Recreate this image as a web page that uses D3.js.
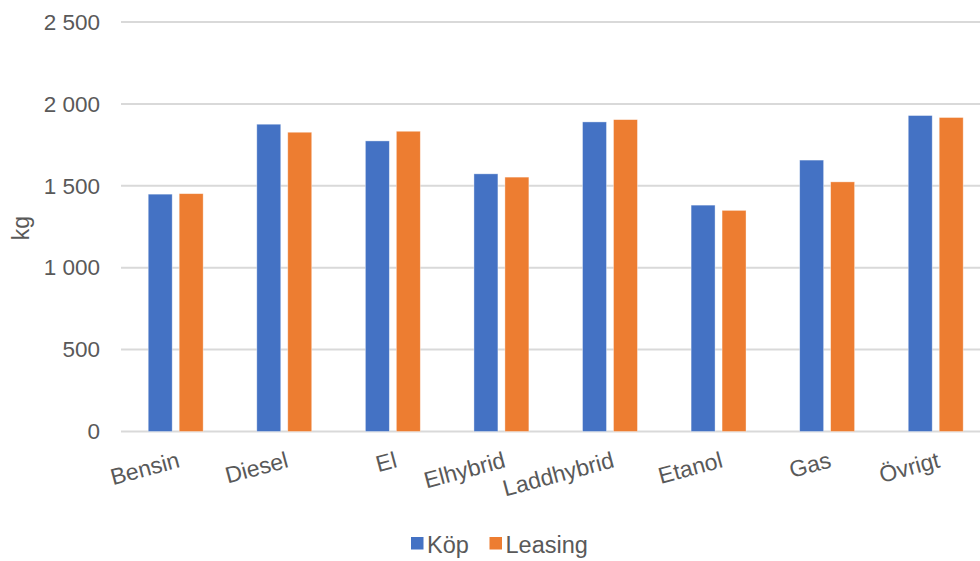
<!DOCTYPE html>
<html>
<head>
<meta charset="utf-8">
<script src="https://cdn.jsdelivr.net/npm/d3@7"></script>
<style>
  html, body { margin: 0; padding: 0; background: #ffffff; }
  svg { display: block; font-family: "Liberation Sans", Arial, sans-serif; }
</style>
</head>
<body>
<svg id="chart" width="980" height="561"></svg>
<script>
// Average vehicle weight (kg) by fuel type, purchased vs leased
const categories = ["Bensin", "Diesel", "El", "Elhybrid", "Laddhybrid", "Etanol", "Gas", "Övrigt"];
const seriesNames = ["Köp", "Leasing"];
const kopValues = [1449, 1876, 1774, 1573, 1890, 1382, 1657, 1929];
const leasingValues = [1452, 1827, 1833, 1553, 1904, 1350, 1524, 1917];
const yTicks = [0, 500, 1000, 1500, 2000, 2500];
const colors = ["#4472C4", "#ED7D31"];

const rows = categories.map((c, i) => ({ category: c, values: [kopValues[i], leasingValues[i]] }));

const svg = d3.select("#chart");
const textColor = "#595959";

const x0 = d3.scaleBand().domain(categories).range([121.4, 990]).paddingInner(0.494).paddingOuter(0.247);
const x1 = d3.scaleBand().domain(seriesNames).range([0, x0.bandwidth()]).paddingInner(0.226).paddingOuter(0);
const y = d3.scaleLinear().domain([0, 2500]).range([431.5, 22]);

const sv = d3.formatLocale({ decimal: ",", thousands: " ", grouping: [3], currency: ["", " kr"] });
const fmt = sv.format(",.0f");

// Horizontal gridlines
svg.append("g").selectAll("line").data(yTicks).join("line")
  .attr("x1", 121).attr("x2", 980)
  .attr("y1", d => y(d)).attr("y2", d => y(d))
  .attr("stroke", "#d9d9d9").attr("stroke-width", 2);

// Y axis tick labels
const yAxis = d3.axisLeft(y).tickValues(yTicks).tickFormat(fmt).tickSize(0).tickPadding(0);
const yg = svg.append("g").attr("transform", "translate(100,0)").call(yAxis);
yg.select(".domain").remove();
yg.selectAll("text").attr("fill", textColor).style("font-size", "22.5px")
  .style("font-family", "'Liberation Sans', Arial, sans-serif");

// Y axis title
svg.append("text")
  .attr("transform", "translate(29,228) rotate(-90)")
  .attr("text-anchor", "middle")
  .attr("fill", textColor).style("font-size", "23px")
  .text("kg");

// Bars
const groups = svg.append("g").selectAll("g").data(rows).join("g")
  .attr("transform", d => `translate(${x0(d.category)},0)`);
groups.selectAll("rect").data(d => d.values.map((v, i) => ({ key: seriesNames[i], value: v, i }))).join("rect")
  .attr("x", d => x1(d.key))
  .attr("width", x1.bandwidth())
  .attr("y", d => y(d.value))
  .attr("height", d => y(0) - y(d.value))
  .attr("fill", d => colors[d.i])
  .attr("stroke", "#ffffff").attr("stroke-opacity", 0.5).attr("stroke-width", 0.75);

// Category labels, rotated
const xAxis = d3.axisBottom(x0).tickSize(0).tickPadding(0);
const xg = svg.append("g").attr("transform", "translate(1,451)").call(xAxis);
xg.select(".domain").remove();
xg.selectAll("text")
  .attr("fill", textColor).style("font-size", "23px")
  .style("font-family", "'Liberation Sans', Arial, sans-serif")
  .attr("text-anchor", "end")
  .attr("dy", "0.72em")
  .attr("y", 0)
  .attr("transform", "rotate(-15)");

// Legend
const legend = svg.append("g");
const legendItems = [{ name: seriesNames[0], x: 411 }, { name: seriesNames[1], x: 489.5 }];
legendItems.forEach((it, i) => {
  legend.append("rect").attr("x", it.x).attr("y", 537).attr("width", 12.5).attr("height", 12.5).attr("fill", colors[i]);
  legend.append("text").attr("x", it.x + 16).attr("y", 552.5)
    .attr("fill", textColor).style("font-size", "23.5px").text(it.name);
});
</script>
</body>
</html>
